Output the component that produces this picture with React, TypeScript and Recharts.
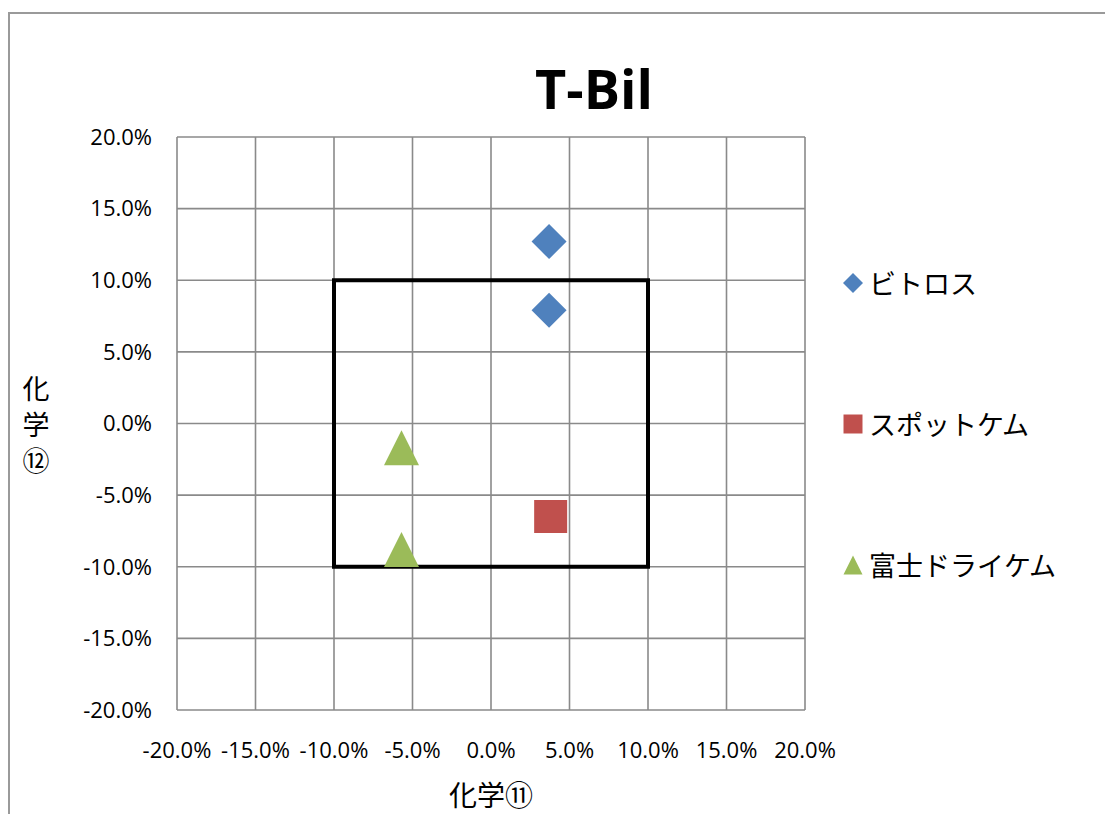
import React from 'react';
import {
  ScatterChart,
  Scatter,
  XAxis,
  YAxis,
  CartesianGrid,
  ReferenceArea,
  Legend,
  Label,
} from 'recharts';

// 値はグラフから読み取り（比率）
const axisTicks = [-0.2, -0.15, -0.1, -0.05, 0, 0.05, 0.1, 0.15, 0.2];

const vitrosX = [0.037, 0.037];
const vitrosY = [0.127, 0.079];

const spotchemX = [0.038];
const spotchemY = [-0.065];

const fujiX = [-0.057, -0.057];
const fujiY = [-0.017, -0.088];

const toPoints = (xs: number[], ys: number[]) => xs.map((x, i) => ({ x, y: ys[i] }));

const series = [
  { name: 'ビトロス', color: '#4F81BD', marker: 'diamond', data: toPoints(vitrosX, vitrosY) },
  { name: 'スポットケム', color: '#C0504D', marker: 'square', data: toPoints(spotchemX, spotchemY) },
  { name: '富士ドライケム', color: '#9BBB59', marker: 'triangle', data: toPoints(fujiX, fujiY) },
];

const LATIN = '"Open Sans", "Noto Sans CJK JP", sans-serif';
const CJK = '"Noto Sans CJK JP", sans-serif';

const pct = (v: number) => `${(v * 100).toFixed(1)}%`;

const markerPath = (kind: string, cx: number, cy: number, r: number) => {
  if (kind === 'diamond') return `M${cx},${cy - r}L${cx + r},${cy}L${cx},${cy + r}L${cx - r},${cy}Z`;
  if (kind === 'triangle') return `M${cx},${cy - r}L${cx + r},${cy + r}L${cx - r},${cy + r}Z`;
  return `M${cx - r},${cy - r}L${cx + r},${cy - r}L${cx + r},${cy + r}L${cx - r},${cy + r}Z`;
};

const makeShape = (kind: string, color: string) => (props: any) => {
  const { cx, cy } = props;
  const r = kind === 'square' ? 16.5 : 17.5;
  return <path d={markerPath(kind, cx, cy, r)} fill={color} />;
};

const LegendBox = () => (
  <div style={{ fontFamily: CJK, fontSize: 27, color: '#000' }}>
    {series.map((s) => (
      <div key={s.name} style={{ height: 141, display: 'flex', alignItems: 'center' }}>
        <svg width={22} height={22} style={{ marginRight: 5 }}>
          <path d={markerPath(s.marker, 11, 11, s.marker === 'diamond' ? 10 : 9.5)} fill={s.color} />
        </svg>
        <span>{s.name}</span>
      </div>
    ))}
  </div>
);

const YTitle = () => (
  <text x={36} y={399} textAnchor="middle" fontFamily={CJK} fontSize={27} fill="#000">
    <tspan x={36}>化</tspan>
    <tspan x={36} dy={36}>学</tspan>
    <tspan x={36} dy={36}>⑫</tspan>
  </text>
);

const App: React.FC = () => (
  <div style={{ position: 'absolute', left: 0, top: 0, width: 1105, height: 814, background: '#fff' }}>
    <div
      style={{
        position: 'absolute',
        left: 8,
        top: 12,
        right: 0,
        bottom: 0,
        borderLeft: '2px solid #9a9a9a',
        borderTop: '2px solid #9a9a9a',
      }}
    />
    <div
      style={{
        position: 'absolute',
        left: 494,
        width: 200,
        top: 52,
        textAlign: 'center',
        fontFamily: LATIN,
        fontWeight: 700,
        fontSize: 54,
        lineHeight: '72px',
        color: '#000',
      }}
    >
      T-Bil
    </div>
    <ScatterChart width={1105} height={814} margin={{ top: 137, right: 300, bottom: 0, left: 0 }}>
      <CartesianGrid stroke="#8a8a8a" strokeWidth={1.6} horizontalValues={axisTicks} verticalValues={axisTicks} />
      <XAxis
        type="number"
        dataKey="x"
        domain={[-0.2, 0.2]}
        ticks={axisTicks}
        tickFormatter={pct}
        interval={0}
        axisLine={false}
        tickLine={false}
        tickSize={0}
        tickMargin={32}
        height={104}
        tick={{ fill: '#000', fontSize: 22, fontFamily: LATIN }}
      >
        <Label value="化学⑪" position="insideBottom" offset={8} fill="#000" fontSize={28} fontFamily={CJK} />
      </XAxis>
      <YAxis
        type="number"
        dataKey="y"
        domain={[-0.2, 0.2]}
        ticks={axisTicks}
        tickFormatter={pct}
        interval={0}
        axisLine={false}
        tickLine={false}
        tickSize={0}
        tickMargin={25}
        width={177}
        tick={{ fill: '#000', fontSize: 22, fontFamily: LATIN }}
      >
        <Label content={<YTitle />} />
      </YAxis>
      <ReferenceArea x1={-0.1} x2={0.1} y1={-0.1} y2={0.1} fill="none" fillOpacity={0} stroke="#000" strokeWidth={4} />
      {series.map((s) => (
        <Scatter
          key={s.name}
          name={s.name}
          data={s.data}
          fill={s.color}
          shape={makeShape(s.marker, s.color)}
          isAnimationActive={false}
        />
      ))}
      <Legend
        layout="horizontal"
        verticalAlign="middle"
        align="center"
        content={<LegendBox />}
        wrapperStyle={{ left: 842, top: 212, width: 260 }}
      />
    </ScatterChart>
  </div>
);

export default App;
